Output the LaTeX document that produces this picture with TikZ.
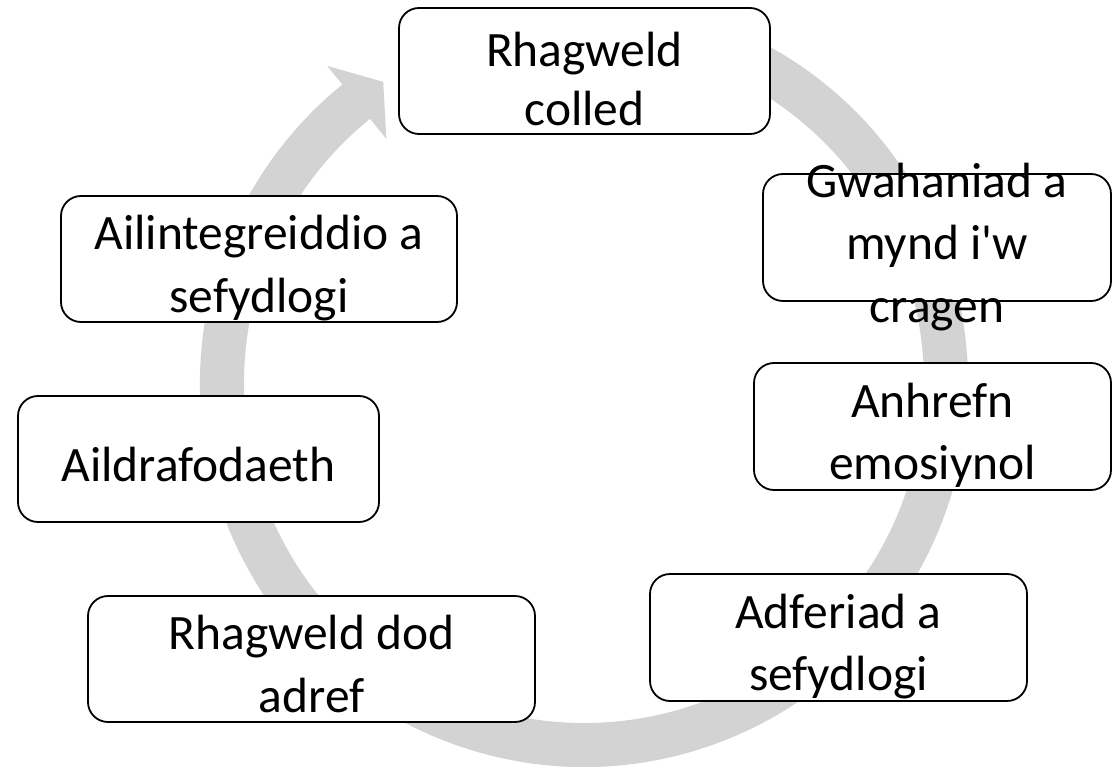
\documentclass[tikz,border=0pt]{standalone}
\usepackage{fontspec}
\setmainfont{Carlito}[Ligatures=TeXOff]
\definecolor{ringgray}{RGB}{211,211,211}
\newcommand\tstrut{\rule[-16pt]{0pt}{76pt}}
\tikzset{
  stagebox/.style={draw=black, line width=1.8pt, fill=white, rounded corners=20pt, inner sep=0pt},
  stagetext/.style={align=center, inner sep=0pt, text=black,
    font={\fontsize{49.5pt}{54.5pt}\selectfont\lineskiplimit=-1000pt\relax}}
}
\begin{document}
\begin{tikzpicture}[x=1pt,y=1pt]
\useasboundingbox (0,0) rectangle (1113,-767);
% circular arrow band
\begin{scope}[shift={(584,-383)}]
\fill[ringgray] (72:384pt) arc[start angle=72, end angle=-231, radius=384pt]
  -- (-231:408pt) -- (-236.3:362pt) -- (-231:314pt) -- (-231:340pt)
  arc[start angle=-231, end angle=72, radius=340pt] -- cycle;
\end{scope}
% boxes
\node[stagebox, minimum width=371pt, minimum height=126pt] (b1) at (584.5,-71) {};
\node[stagebox, minimum width=348pt, minimum height=127pt] (b2) at (937,-237.5) {};
\node[stagebox, minimum width=357pt, minimum height=127pt] (b3) at (932.5,-426.5) {};
\node[stagebox, minimum width=377pt, minimum height=127pt] (b4) at (838.5,-637.5) {};
\node[stagebox, minimum width=447pt, minimum height=126pt] (b5) at (311.5,-659) {};
\node[stagebox, minimum width=361pt, minimum height=126pt] (b6) at (198.5,-459) {};
\node[stagebox, minimum width=396pt, minimum height=126pt] (b7) at (259,-259) {};
% texts
\node[stagetext] (t1) at ([yshift=-3pt]b1.center) {\tstrut Rhagweld\\[4pt]\tstrut colled};
\node[stagetext] (t2) at (b2.center) {\tstrut Gwahaniad a\\[8pt]\tstrut mynd i'w\\[8pt]\tstrut cragen};
\node[stagetext] (t3) at (b3.center) {\tstrut Anhrefn\\[8pt]\tstrut emosiynol};
\node[stagetext] (t4) at (b4.center) {\tstrut Adferiad a\\[8pt]\tstrut sefydlogi};
\node[stagetext] (t5) at (b5.center) {\tstrut Rhagweld dod\\[8pt]\tstrut adref};
\node[stagetext] (t6) at (b6.center) {\tstrut Aildrafodaeth};
\node[stagetext] (t7) at (b7.center) {\tstrut Ailintegreiddio a\\[8pt]\tstrut sefydlogi};
\end{tikzpicture}
\end{document}
